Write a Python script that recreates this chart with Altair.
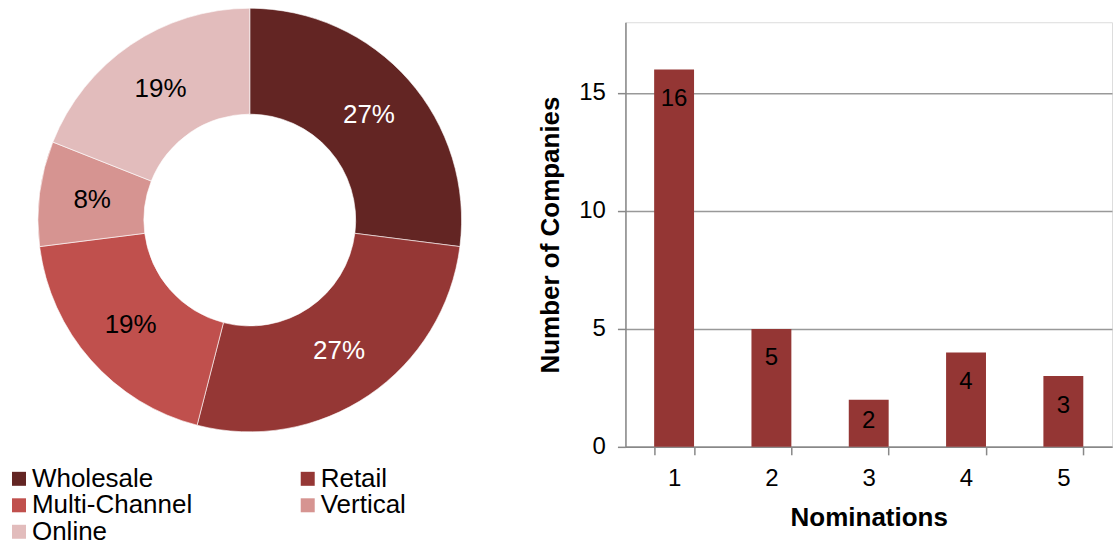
import altair as alt
import pandas as pd

FONT = "Liberation Sans"

# Donut: share of companies by business model
segments = ["Wholesale", "Retail", "Multi-Channel", "Vertical", "Online"]
shares = [27, 27, 19, 8, 19]
segment_colors = ["#632523", "#953735", "#C0504D", "#D69491", "#E2BCBC"]
label_colors = ["white", "white", "black", "black", "black"]

# Bars: number of companies by number of nominations
nominations = ["1", "2", "3", "4", "5"]
companies = [16, 5, 2, 4, 3]
y_ticks = [0, 5, 10, 15]

seg_df = pd.DataFrame({
    "segment": segments,
    "share": shares,
    "order": list(range(len(segments))),
    "label_color": label_colors,
})
seg_df["label"] = seg_df["share"].astype(str) + "%"

base = alt.Chart(seg_df).encode(
    theta=alt.Theta("share:Q", stack=True),
    order=alt.Order("order:Q"),
)

ring = base.mark_arc(radius=212, innerRadius=106, stroke="white", strokeWidth=0.6).encode(
    color=alt.Color(
        "segment:N",
        sort=segments,
        scale=alt.Scale(domain=segments, range=segment_colors),
        legend=alt.Legend(
            title=None,
            orient="none",
            direction="horizontal",
            legendX=6,
            legendY=444,
            padding=0,
            columns=2,
            columnPadding=102,
            rowPadding=0.5,
            symbolType="square",
            symbolSize=196,
            symbolStrokeWidth=0,
            labelFont=FONT,
            labelFontSize=26,
            labelColor="black",
            labelLimit=400,
            labelOffset=0,
        ),
    )
)

pct_labels = base.mark_text(radius=159, fontSize=26, font=FONT).encode(
    text="label:N",
    color=alt.Color("label_color:N", scale=None),
)

donut = alt.layer(ring, pct_labels).properties(width=500, height=396)

bar_df = pd.DataFrame({"nominations": nominations, "companies": companies})

x_enc = alt.X(
    "nominations:N",
    sort=nominations,
    scale=alt.Scale(paddingInner=0.59, paddingOuter=0.295),
    axis=alt.Axis(
        title="Nominations",
        labelAngle=0,
        tickBand="extent",
        grid=False,
        domainColor="#888888",
        domainWidth=1.5,
        tickColor="#888888",
        tickWidth=1.5,
        tickSize=8,
        labelFont=FONT,
        labelFontSize=24,
        labelColor="black",
        labelPadding=12,
        titleFont=FONT,
        titleFontSize=26,
        titleFontWeight="bold",
        titleColor="black",
        titlePadding=14,
    ),
)

y_scale = alt.Scale(domain=[0, 18], nice=False)

bars = alt.Chart(bar_df).mark_bar(color="#943634").encode(
    x=x_enc,
    y=alt.Y(
        "companies:Q",
        scale=y_scale,
        axis=alt.Axis(
            title="Number of Companies",
            values=y_ticks,
            grid=True,
            gridColor="#999999",
            gridWidth=1.5,
            domainColor="#888888",
            domainWidth=1.5,
            tickColor="#888888",
            tickWidth=1.5,
            tickSize=8,
            labelFont=FONT,
            labelFontSize=24,
            labelColor="black",
            labelPadding=12,
            titleFont=FONT,
            titleFontSize=26,
            titleFontWeight="bold",
            titleColor="black",
            titlePadding=15,
        ),
    ),
)

bar_labels = alt.Chart(bar_df).transform_calculate(
    label_y="max(datum.companies - 1.25, 1.1)"
).mark_text(fontSize=24, font=FONT, color="black", baseline="middle").encode(
    x=alt.X("nominations:N", sort=nominations),
    y=alt.Y("label_y:Q", scale=y_scale),
    text=alt.Text("companies:Q"),
)

bar_chart = alt.layer(bars, bar_labels).properties(width=487, height=425)

chart = alt.hconcat(donut, bar_chart, spacing=126, bounds="flush").properties(
    padding={"top": 6, "left": 0, "right": 0, "bottom": 0}
).configure_view(stroke="transparent").configure(font=FONT)

chart.save("out.html", embed_options={"renderer": "svg", "actions": False})
